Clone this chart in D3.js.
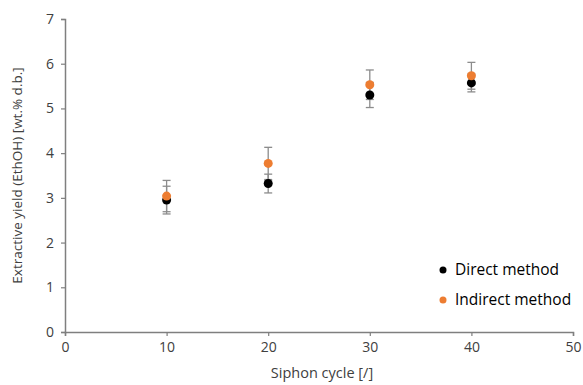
<!DOCTYPE html>
<html>
<head>
<meta charset="utf-8">
<script src="https://cdn.jsdelivr.net/npm/d3@7"></script>
<style>
  body { margin: 0; background: #fff; }
  text { font-family: "Open Sans", "Noto Sans", sans-serif; fill: #404040; }
</style>
</head>
<body>
<svg id="chart" width="583" height="385"></svg>
<script>
// data
const cycles = [10, 20, 30, 40];
const direct = [2.95, 3.32, 5.30, 5.57];
const directErr = [0.31, 0.21, 0.28, 0.2];
const indirect = [3.04, 3.77, 5.53, 5.73];
const indirectErr = [0.35, 0.36, 0.33, 0.3];
const xTicks = [0, 10, 20, 30, 40, 50];
const yTicks = [0, 1, 2, 3, 4, 5, 6, 7];

const svg = d3.select("#chart");
const x = d3.scaleLinear().domain([0, 50]).range([65, 573]);
const y = d3.scaleLinear().domain([0, 7]).range([332, 19]);
const axisColor = "#7f7f7f";

// axes
const gx = svg.append("g")
  .attr("transform", "translate(0," + y(0) + ")")
  .call(d3.axisBottom(x).tickValues(xTicks).tickFormat(d3.format("d")).tickSize(4).tickPadding(6));
const gy = svg.append("g")
  .attr("transform", "translate(" + x(0) + ",0)")
  .call(d3.axisLeft(y).tickValues(yTicks).tickFormat(d3.format("d")).tickSize(4).tickPadding(7));
[gx, gy].forEach(function(g) {
  g.select(".domain").attr("stroke", axisColor).attr("stroke-width", 1.5);
  g.selectAll(".tick line").attr("stroke", axisColor).attr("stroke-width", 1.2);
  g.selectAll(".tick text")
    .style("font-size", "14px")
    .style("font-family", "'Open Sans', sans-serif")
    .style("fill", "#404040");
});

// axis titles
svg.append("text")
  .attr("x", (x(0) + x(50)) / 2 + 3)
  .attr("y", 378)
  .attr("text-anchor", "middle")
  .style("font-size", "14.5px")
  .text("Siphon cycle [/]");
svg.append("text")
  .attr("transform", "translate(22," + (y(0) + y(7)) / 2 + ") rotate(-90)")
  .attr("text-anchor", "middle")
  .style("font-size", "13.5px")
  .text("Extractive yield (EthOH) [wt.% d.b.]");

const series = [
  { name: "Direct method", vals: direct, err: directErr, color: "#000000" },
  { name: "Indirect method", vals: indirect, err: indirectErr, color: "#ed7d31" }
];

// error bars
const errColor = "#8c8c8c";
series.forEach(function(s) {
  const g = svg.append("g");
  cycles.forEach(function(c, i) {
    const cx = x(c);
    const top = y(s.vals[i] + s.err[i]);
    const bot = y(s.vals[i] - s.err[i]);
    g.append("line").attr("x1", cx).attr("x2", cx).attr("y1", top).attr("y2", bot)
      .attr("stroke", errColor).attr("stroke-width", 1.3);
    [top, bot].forEach(function(yy) {
      g.append("line").attr("x1", cx - 4).attr("x2", cx + 4).attr("y1", yy).attr("y2", yy)
        .attr("stroke", errColor).attr("stroke-width", 1.3);
    });
  });
});

// markers
series.forEach(function(s) {
  svg.append("g").selectAll("circle")
    .data(cycles)
    .enter()
    .append("circle")
    .attr("cx", function(d) { return x(d); })
    .attr("cy", function(d, i) { return y(s.vals[i]); })
    .attr("r", 4.5)
    .attr("fill", s.color);
});

// legend
const legend = svg.append("g").attr("transform", "translate(443,270)");
series.forEach(function(s, i) {
  legend.append("circle").attr("cx", 0).attr("cy", i * 30).attr("r", 3.5).attr("fill", s.color);
  legend.append("text")
    .attr("x", 12)
    .attr("y", i * 30 + 5)
    .style("font-size", "15.5px")
    .style("fill", "#000")
    .text(s.name);
});
</script>
</body>
</html>
